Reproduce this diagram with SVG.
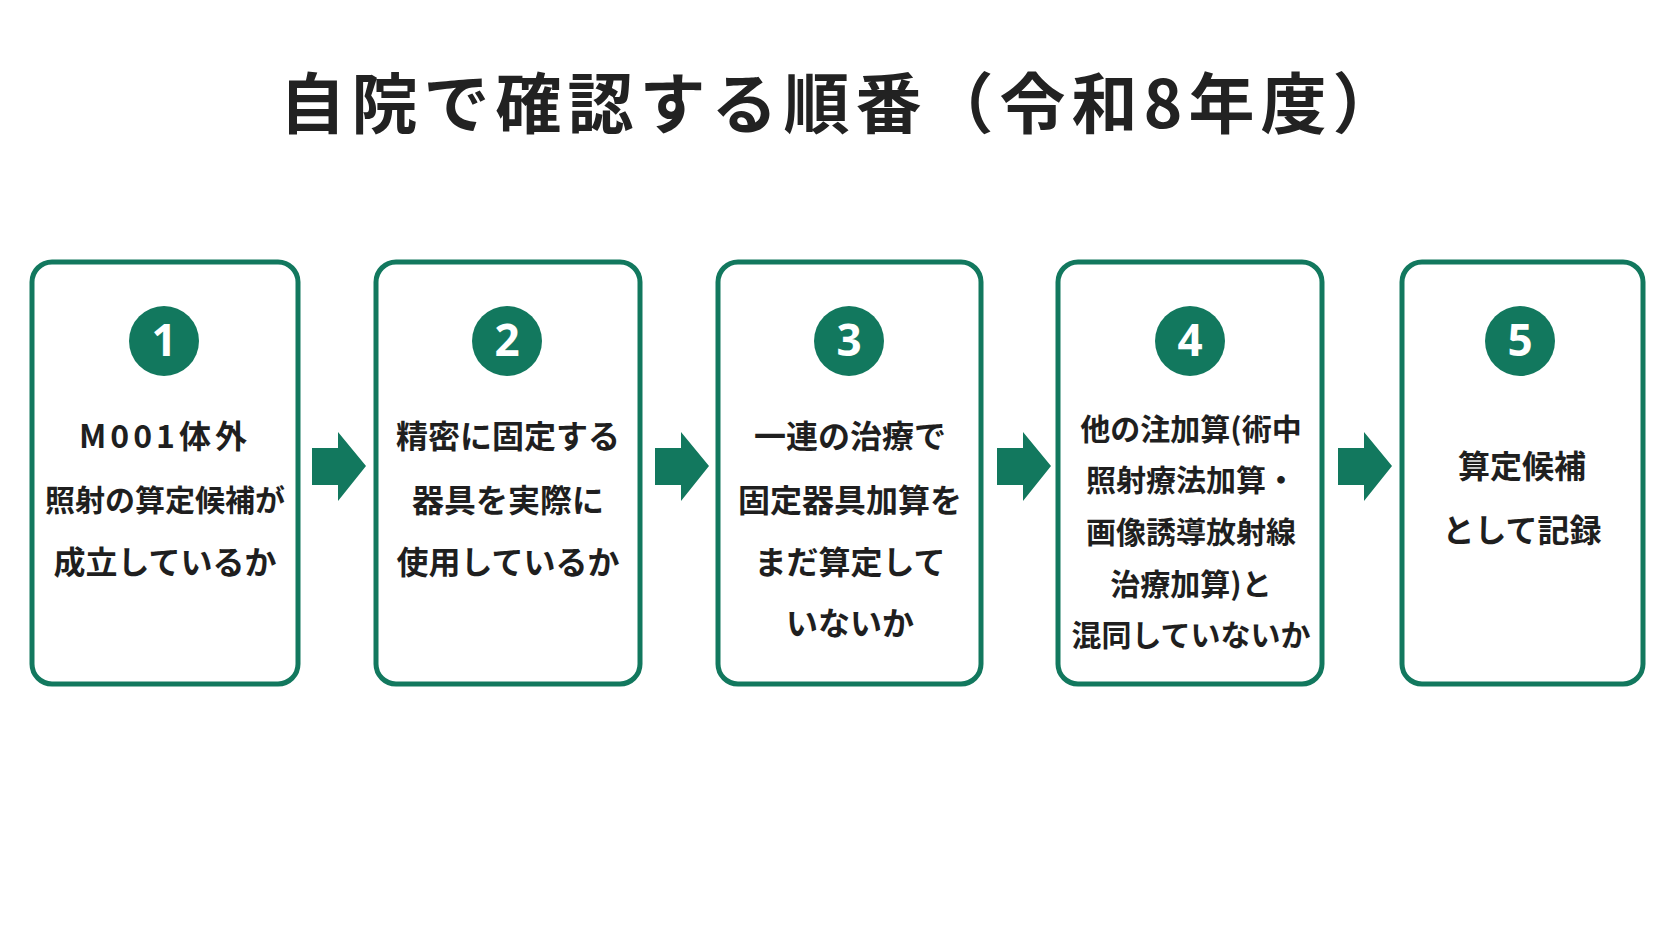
<svg xmlns="http://www.w3.org/2000/svg" width="1672" height="941" viewBox="0 0 1672 941">
<style>
.box{fill:#fff;stroke:#12785e;stroke-width:5}
.num{fill:#12785e}
.n{font-family:"Noto Sans","Liberation Sans",sans-serif;font-weight:700;font-size:44px;fill:#fff;text-anchor:middle}
.t{font-family:"Noto Sans CJK JP",sans-serif;font-weight:700;font-size:32px;fill:#1f1f1f;text-anchor:middle}
.s{font-size:30px}
.ar{fill:#12785e}
</style>
<rect width="1672" height="941" fill="#fff"/>
<text x="842" y="128" font-family="Noto Sans CJK JP,sans-serif" font-weight="700" font-size="66" letter-spacing="6" fill="#222" text-anchor="middle">自院で確認する順番（令和8年度）</text>
<g id="node1"><rect class="box" x="32" y="262" width="266" height="422" rx="20"/><circle class="num" cx="164" cy="341" r="35"/><text class="n" x="164" y="356">1</text>
<text class="t" x="165" y="448" letter-spacing="4">M001体外</text><text class="t s" x="165" y="511">照射の算定候補が</text><text class="t" x="165" y="574">成立しているか</text></g>
<g id="node2"><rect class="box" x="376" y="262" width="264" height="422" rx="20"/><circle class="num" cx="507" cy="341" r="35"/><text class="n" x="507" y="356">2</text>
<text class="t" x="508" y="448">精密に固定する</text><text class="t" x="508" y="512">器具を実際に</text><text class="t" x="508" y="574">使用しているか</text></g>
<g id="node3"><rect class="box" x="718" y="262" width="263" height="422" rx="20"/><circle class="num" cx="849" cy="341" r="35"/><text class="n" x="849" y="356">3</text>
<text class="t" x="850" y="448">一連の治療で</text><text class="t" x="850" y="512">固定器具加算を</text><text class="t" x="850" y="574">まだ算定して</text><text class="t" x="850" y="635">いないか</text></g>
<g id="node4"><rect class="box" x="1058" y="262" width="264" height="422" rx="20"/><circle class="num" cx="1190" cy="341" r="35"/><text class="n" x="1190" y="356">4</text>
<text class="t s" x="1191" y="440">他の注加算(術中</text><text class="t s" x="1191" y="491">照射療法加算・</text><text class="t s" x="1191" y="543">画像誘導放射線</text><text class="t s" x="1191" y="595">治療加算)と</text><text class="t s" x="1191" y="646">混同していないか</text></g>
<g id="node5"><rect class="box" x="1402" y="262" width="241" height="422" rx="20"/><circle class="num" cx="1520" cy="341" r="35"/><text class="n" x="1520" y="356">5</text>
<text class="t" x="1522" y="478">算定候補</text><text class="t" x="1522" y="542">として記録</text></g>
<g id="connectors">
<path class="ar" d="M312 448h26v-16l28 34-28 35v-16h-26z"/>
<path class="ar" d="M655 448h26v-16l28 34-28 35v-16h-26z"/>
<path class="ar" d="M997 448h26v-16l28 34-28 35v-16h-26z"/>
<path class="ar" d="M1338 448h26v-16l28 34-28 35v-16h-26z"/>
</g>
</svg>
